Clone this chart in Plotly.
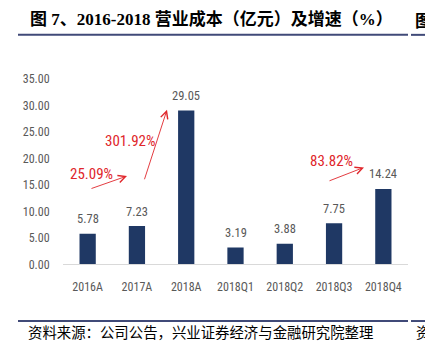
import plotly.graph_objects as go

categories = ["2016A", "2017A", "2018A", "2018Q1", "2018Q2", "2018Q3", "2018Q4"]
values = [5.78, 7.23, 29.05, 3.19, 3.88, 7.75, 14.24]
value_labels = ["5.78", "7.23", "29.05", "3.19", "3.88", "7.75", "14.24"]
y_ticks = [0, 5, 10, 15, 20, 25, 30, 35]
y_tick_labels = ["0.00", "5.00", "10.00", "15.00", "20.00", "25.00", "30.00", "35.00"]
growth_labels = ["25.09%", "301.92%", "83.82%"]

W, H = 425, 353
def px(x): return x / W
def py(y): return 1 - y / H

NARROW = "Liberation Sans Narrow, Arial Narrow, Roboto Condensed, Roboto, sans-serif"
GRAY = "#595959"
RED = "#E0262B"
NAVY = "#1F3864"
LINE = "#404A78"

fig = go.Figure()
fig.add_trace(go.Bar(x=categories, y=values, marker=dict(color=NAVY, line=dict(width=0)),
                     hoverinfo="skip"))

ann = []
for c, v, t in zip(categories, values, value_labels):
    ann.append(dict(x=c, y=v, xref="x", yref="y", text=t, showarrow=False,
                    yanchor="middle", yshift=15,
                    font=dict(family=NARROW, size=12.5, color=GRAY)))

# growth texts
for t, (cx, cy) in zip(growth_labels, [(91, 174), (130, 140), (331, 160)]):
    ann.append(dict(x=px(cx), y=py(cy), xref="paper", yref="paper", text=t, showarrow=False,
                    xanchor="center", yanchor="middle",
                    font=dict(family=NARROW, size=15, color=RED)))
# arrows (head, tail) in pixels
for (hx, hy), (tx, ty) in [((127, 176), (90, 189)), ((167, 107), (144, 178)), ((364, 167), (328, 181))]:
    ann.append(dict(x=px(hx), y=py(hy), xref="paper", yref="paper", text="", showarrow=True,
                    ax=tx - hx, ay=ty - hy, axref="pixel", ayref="pixel",
                    arrowhead=5, arrowsize=1.6, arrowwidth=0.9, arrowcolor=RED))

# title
ann.append(dict(x=px(28), y=py(13), xref="paper", yref="paper",
                text="<b>图 7、2016-2018 营业成本（亿元）及增速（%）</b>", showarrow=False,
                xanchor="left", yanchor="middle",
                font=dict(family="Liberation Serif, Noto Sans CJK SC, serif", size=17, color="#000000")))
ann.append(dict(x=px(413), y=py(13), xref="paper", yref="paper",
                text="<b>图</b>", showarrow=False, xanchor="left", yanchor="middle",
                font=dict(family="Noto Sans CJK SC, serif", size=17, color="#000000")))
# source
ann.append(dict(x=px(26), y=py(338), xref="paper", yref="paper",
                text="资料来源：公司公告，兴业证券经济与金融研究院整理", showarrow=False,
                xanchor="left", yanchor="middle",
                font=dict(family="Noto Sans CJK SC, serif", size=14.4, color="#000000")))
ann.append(dict(x=px(414), y=py(338), xref="paper", yref="paper",
                text="资", showarrow=False, xanchor="left", yanchor="middle",
                font=dict(family="Noto Sans CJK SC, serif", size=14.4, color="#000000")))

shapes = [
    dict(type="line", xref="paper", yref="paper", x0=px(18), x1=px(408), y0=py(29), y1=py(29),
         line=dict(color=LINE, width=2)),
    dict(type="line", xref="paper", yref="paper", x0=px(411), x1=px(425), y0=py(29), y1=py(29),
         line=dict(color=LINE, width=2)),
    dict(type="line", xref="paper", yref="paper", x0=px(18), x1=px(408), y0=py(327), y1=py(327),
         line=dict(color=LINE, width=2)),
    dict(type="line", xref="paper", yref="paper", x0=px(411), x1=px(425), y0=py(327), y1=py(327),
         line=dict(color=LINE, width=2)),
]

fig.update_layout(
    width=W, height=H, margin=dict(l=0, r=0, t=0, b=0),
    paper_bgcolor="white", plot_bgcolor="white",
    showlegend=False, bargap=0.67,
    annotations=ann, shapes=shapes,
    xaxis=dict(domain=[px(63), px(408)], showgrid=False, showline=True, linecolor="#D9D9D9",
               linewidth=1, ticks="outside", ticklen=11, tickcolor="rgba(0,0,0,0)",
               tickfont=dict(family=NARROW, size=12, color=GRAY),
               fixedrange=True),
    yaxis=dict(domain=[py(268), py(75)], range=[0, 35], tickvals=y_ticks, ticktext=y_tick_labels,
               showgrid=False, zeroline=False, showline=False, ticks="outside", ticklen=10,
               tickcolor="rgba(0,0,0,0)",
               tickfont=dict(family=NARROW, size=12, color=GRAY), fixedrange=True),
)

fig.write_html("out.html")
